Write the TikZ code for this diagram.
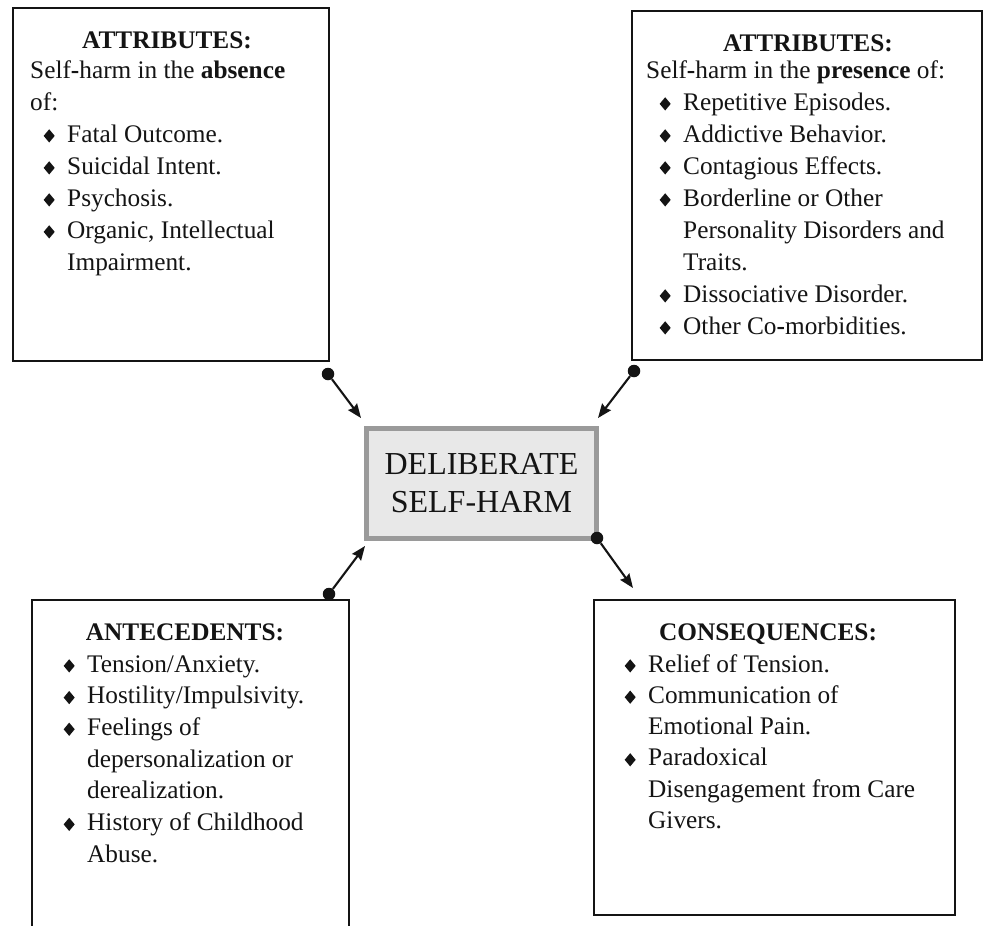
\documentclass[tikz,border=0pt]{standalone}
\usepackage{fontspec}
\setmainfont{Liberation Serif}
\usepackage{graphicx}
\usetikzlibrary{arrows.meta,calc}

\definecolor{ink}{HTML}{141414}
\definecolor{rimgray}{HTML}{9A9A9A}
\definecolor{coregray}{HTML}{E8E8E8}

% small black diamond bullet
\newcommand\dmd{\raisebox{-0.5pt}{\scalebox{1}[1.2]{\rotatebox{45}{\rule{7.8pt}{7.8pt}}}}}
% bulleted line and continuation line (text indented 37pt)
\newcommand\itm{\hspace*{37pt}\llap{\dmd\hspace{12.5pt}}}
\newcommand\cnt{\hspace*{37pt}}
\newcommand\bodyfont{\fontsize{25.3}{32}\selectfont}

\tikzset{
  panel/.style={draw=ink, line width=1.9pt, fill=white, anchor=north west,
    inner sep=0pt, outer sep=0pt},
  heading/.style={anchor=base, inner sep=0pt, text=ink,
    font=\fontsize{25.3}{32}\selectfont\bfseries},
  body/.style={anchor=base west, inner sep=0pt, text=ink},
  core/.style={draw=rimgray, line width=5pt, fill=coregray, inner sep=0pt,
    minimum width=230pt, minimum height=110pt, align=center, text=ink,
    font=\fontsize{32}{38}\selectfont},
  dotnode/.style={circle, fill=ink, inner sep=0pt, minimum size=12.5pt},
  conn/.style={draw=ink, line width=2.1pt,
    -{Stealth[length=14pt, width=11pt, inset=1.5pt]}}
}

\begin{document}
\begin{tikzpicture}[x=1pt, y=-1pt]
\useasboundingbox[fill=white] (0,0) rectangle (985,926);

% four outer panels
\node[panel, minimum width=316pt, minimum height=353pt] (tl) at (13,8) {};
\node[panel, minimum width=350pt, minimum height=349pt] (tr) at (632,11) {};
\node[panel, minimum width=317pt, minimum height=345pt] (bl) at (32,600) {};
\node[panel, minimum width=361pt, minimum height=315pt] (br) at (594,600) {};

% central concept
\node[core] (c) at (481.5,483.5) {DELIBERATE\\SELF-HARM};

% headings
\node[heading] (tlh) at (167,48) {ATTRIBUTES:};
\node[heading] (trh) at (808,51) {ATTRIBUTES:};
\node[heading] (blh) at (185,640) {ANTECEDENTS:};
\node[heading] (brh) at (768,640) {CONSEQUENCES:};

% panel texts
\node[body] (tlt) at (30,78) {\parbox[t]{420pt}{\bodyfont\raggedright
  Self\textbf{-}harm in the \textbf{absence}\\
  of:\\
  \itm Fatal Outcome.\\
  \itm Suicidal Intent.\\
  \itm Psychosis.\\
  \itm Organic, Intellectual\\
  \cnt Impairment.}};

\node[body] (trt) at (646,78) {\parbox[t]{420pt}{\bodyfont\raggedright
  Self\textbf{-}harm in the \textbf{presence} of:\\
  \itm Repetitive Episodes.\\
  \itm Addictive Behavior.\\
  \itm Contagious Effects.\\
  \itm Borderline or Other\\
  \cnt Personality Disorders and\\
  \cnt Traits.\\
  \itm Dissociative Disorder.\\
  \itm Other Co\textbf{-}morbidities.}};

\node[body] (blt) at (50,672) {\parbox[t]{420pt}{\fontsize{25.3}{31.7}\selectfont\raggedright
  \itm Tension/Anxiety.\\
  \itm Hostility/Impulsivity.\\
  \itm Feelings of\\
  \cnt depersonalization or\\
  \cnt derealization.\\
  \itm History of Childhood\\
  \cnt Abuse.}};

\node[body] (brt) at (611,672) {\parbox[t]{420pt}{\fontsize{25.3}{31.3}\selectfont\raggedright
  \itm Relief of Tension.\\
  \itm Communication of\\
  \cnt Emotional Pain.\\
  \itm Paradoxical\\
  \cnt Disengagement from Care\\
  \cnt Givers.}};

% connector ends
\node[dotnode] (d1) at ($(tl.south east)+(-1,13)$) {};
\node[dotnode] (d2) at ($(tr.south west)+(2,11)$) {};
\node[dotnode] (d3) at ($(bl.north east)+(-20,-6)$) {};
\node[dotnode] (d4) at ($(c.south east)+(-2,-3)$) {};
\coordinate (t1) at ($(c.north west)+(-3,-8)$);
\coordinate (t2) at ($(c.north east)+(-1,-8)$);
\coordinate (t3) at ($(c.south west)+(1,5)$);
\coordinate (t4) at ($(br.north west)+(39,-12)$);

% connectors
\draw[conn] (d1) -- (t1);
\draw[conn] (d2) -- (t2);
\draw[conn] (d3) -- (t3);
\draw[conn] (d4) -- (t4);
\end{tikzpicture}
\end{document}
